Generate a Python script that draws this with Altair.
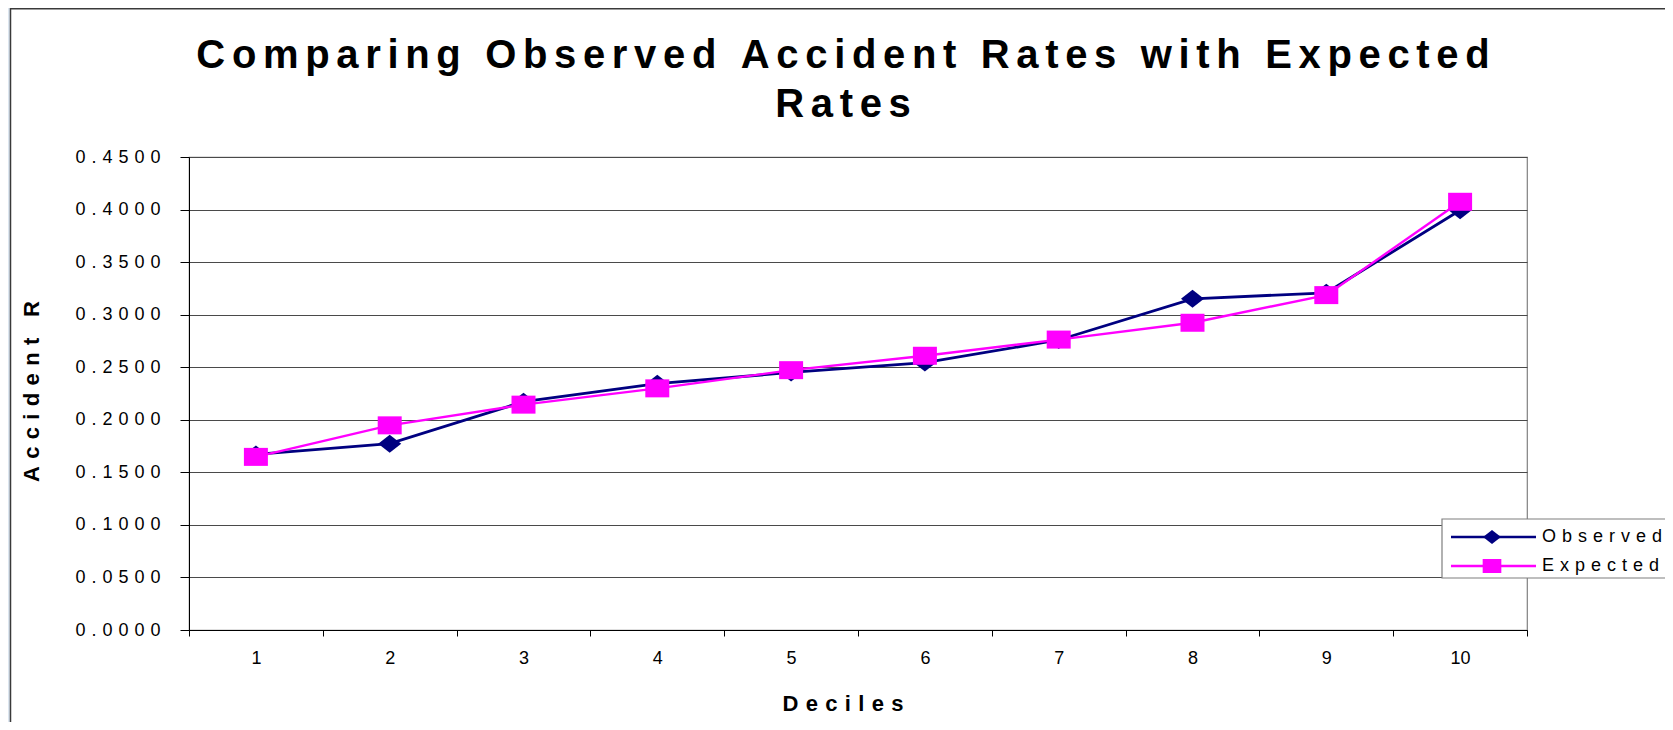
import altair as alt
import pandas as pd

# ---------------- data ----------------
deciles = [1, 2, 3, 4, 5, 6, 7, 8, 9, 10]
observed = [0.1670, 0.1773, 0.2172, 0.2343, 0.2450, 0.2544, 0.2759, 0.3151, 0.3208, 0.3994]
expected = [0.1647, 0.1947, 0.2144, 0.2299, 0.2472, 0.2609, 0.2763, 0.2923, 0.3186, 0.4074]
series_names = ["Observed", "Expected"]
series_colors = ["#000080", "#FF00FF"]
y_ticks = [0.0, 0.05, 0.10, 0.15, 0.20, 0.25, 0.30, 0.35, 0.40, 0.45]
title_lines = ["Comparing Observed Accident Rates with Expected", "Rates"]
x_title = "Deciles"
y_title = "Accident Rates"

FONT = "Liberation Sans"
SP6 = "\u2006"   # six-per-em space (letter spacing for big title)
SP3 = "\u2004"   # three-per-em space (letter spacing for small text)


def spaced(s, sep):
    return sep.join(list(s))


df = pd.DataFrame({
    "decile": deciles * 2,
    "value": observed + expected,
    "series": [series_names[0]] * len(deciles) + [series_names[1]] * len(deciles),
})
one = pd.DataFrame({"k": [0]})

W, H = 1338, 473

diamond = "M 0 -1 L 1.28 0 L 0 1 L -1.28 0 Z"
square = "M -1.333 -1 L 1.333 -1 L 1.333 1 L -1.333 1 Z"
shapes = [diamond, square]
widths = [2.8, 2.4]

x_enc = alt.X(
    "decile:O",
    scale=alt.Scale(type="band", paddingInner=0, paddingOuter=0),
    bandPosition=0.5,
    axis=alt.Axis(
        title=None, labelAngle=0, tickBand="extent", tickSize=6, tickColor="black",
        domainColor="black", labelFont=FONT, labelFontSize=18, labelColor="black",
        labelBaseline="middle", labelPadding=22, grid=False,
    ),
)
y_enc = alt.Y(
    "value:Q",
    scale=alt.Scale(domain=[0, 0.45], nice=False, zero=True),
    axis=alt.Axis(
        title=None, values=y_ticks, grid=True, gridColor="#4a4a4a", gridWidth=1,
        tickSize=9, tickColor="black", domainColor="black",
        labelFont=FONT, labelFontSize=18, labelColor="black", labelPadding=20,
        labelExpr="join(split(format(datum.value, '.4f'), ''), '" + SP3 + "')",
    ),
)

base = alt.Chart(df)
layers = []

# chart frame (left and top border of the white chart area)
layers.append(alt.Chart(one).mark_rect(fill="#dce6f0").encode(
    x=alt.value(-181), x2=alt.value(-179), y=alt.value(-149), y2=alt.value(566)))
layers.append(alt.Chart(one).mark_rule(color="#3a3a3a", strokeWidth=1.5).encode(
    x=alt.value(-178.5), y=alt.value(-149), y2=alt.value(566)))
layers.append(alt.Chart(one).mark_rule(color="#3a3a3a", strokeWidth=1.5).encode(
    x=alt.value(-178.5), x2=alt.value(1480), y=alt.value(-148.3)))

# series
for name, color, shape, sw in zip(series_names, series_colors, shapes, widths):
    sub = base.transform_filter(alt.datum.series == name)
    layers.append(sub.mark_line(color=color, strokeWidth=sw).encode(x=x_enc, y=y_enc))
    layers.append(sub.mark_point(shape=shape, size=324, filled=True, color=color,
                                 opacity=1, strokeWidth=0).encode(x=x_enc, y=y_enc))

# titles
layers.append(alt.Chart(one).mark_text(
    text=spaced(title_lines[0], SP6), font=FONT, fontSize=40, fontWeight="bold",
    align="center", baseline="alphabetic", color="black").encode(
    x=alt.value(654), y=alt.value(-89)))
layers.append(alt.Chart(one).mark_text(
    text=spaced(title_lines[1], SP6), font=FONT, fontSize=40, fontWeight="bold",
    align="center", baseline="alphabetic", color="black").encode(
    x=alt.value(654), y=alt.value(-40)))
layers.append(alt.Chart(one).mark_text(
    text=spaced(x_title, SP3), font=FONT, fontSize=22, fontWeight="bold",
    align="center", baseline="alphabetic", color="black").encode(
    x=alt.value(654), y=alt.value(554)))
layers.append(alt.Chart(one).mark_text(
    text=spaced(y_title, SP3), font=FONT, fontSize=22, fontWeight="bold",
    align="left", baseline="middle", angle=270, limit=192, ellipsis="\u200b",
    color="black").encode(x=alt.value(-157), y=alt.value(325)))

# legend
layers.append(alt.Chart(one).mark_rect(fill="white", stroke="#7f7f7f", strokeWidth=1.2).encode(
    x=alt.value(1253), x2=alt.value(1530), y=alt.value(362), y2=alt.value(421)))
for i, (name, color, shape) in enumerate(zip(series_names, series_colors, shapes)):
    ry = 380 + 29 * i
    layers.append(alt.Chart(one).mark_rule(color=color, strokeWidth=2.4).encode(
        x=alt.value(1262), x2=alt.value(1347), y=alt.value(ry)))
    layers.append(alt.Chart(one).mark_point(shape=shape, size=196, filled=True, color=color,
                                            opacity=1, strokeWidth=0).encode(
        x=alt.value(1303), y=alt.value(ry)))
    layers.append(alt.Chart(one).mark_text(
        text=spaced(name, SP3), font=FONT, fontSize=18, align="left", baseline="middle",
        color="black").encode(x=alt.value(1353), y=alt.value(ry)))

chart = alt.layer(*layers).properties(
    width=W, height=H,
    padding={"left": 181, "top": 149, "right": 138, "bottom": 92},
    autosize=alt.AutoSizeParams(type="none"),
    background="white",
).configure_view(stroke="#808080", strokeWidth=1.2)

chart.save("out.html", embed_options={"renderer": "svg", "actions": False})
